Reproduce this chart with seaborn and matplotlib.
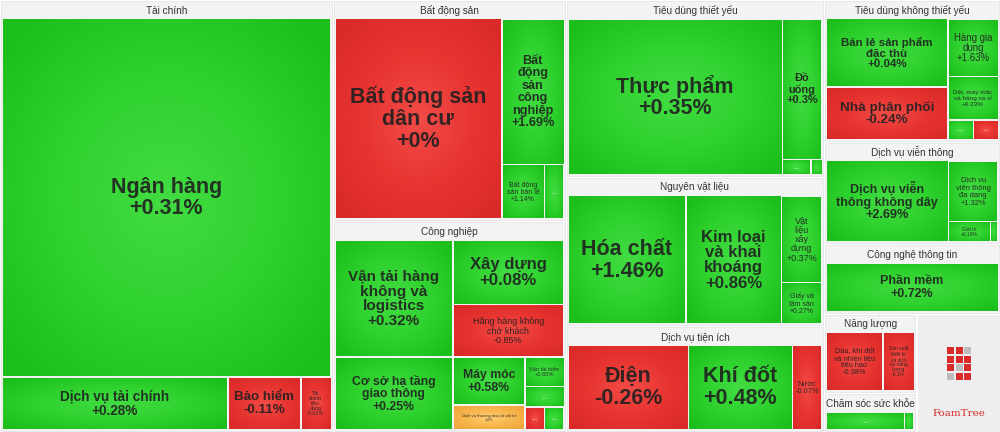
import numpy as np
import matplotlib
matplotlib.use("Agg")
import matplotlib.pyplot as plt
from matplotlib.patches import Rectangle
import seaborn as sns

# ---------------- data ----------------
SECTORS = ["Tài chính", "Bất động sản", "Công nghiệp", "Tiêu dùng thiết yếu",
           "Nguyên vật liệu", "Dịch vụ tiện ích", "Tiêu dùng không thiết yếu",
           "Dịch vụ viễn thông", "Công nghệ thông tin", "Năng lượng",
           "Chăm sóc sức khỏe"]

INDUSTRIES = [
    "Ngân hàng", "Dịch vụ tài chính", "Bảo hiểm", "Tài chính tiêu dùng",                 # 0-3
    "Bất động sản dân cư", "Bất động sản công nghiệp", "Bất động sản bán lẻ", "...",   # 4-7
    "Vận tải hàng không và logistics", "Cơ sở hạ tầng giao thông", "Xây dựng",         # 8-10
    "Hãng hàng không chở khách", "Máy móc", "Dịch vụ thương mại và vật tư",            # 11-13
    "Vận tải biển", "...", "...", "...",                                               # 14-17
    "Thực phẩm", "Đồ uống", "...", "...",                                              # 18-21
    "Hóa chất", "Kim loại và khai khoáng", "Vật liệu xây dựng", "Giấy và lâm sản",     # 22-25
    "Điện", "Khí đốt", "Nước",                                                         # 26-28
    "Bán lẻ sản phẩm đặc thù", "Nhà phân phối", "Hàng gia dụng",                       # 29-31
    "Dệt, may mặc và hàng xa xỉ", "...", "...",                                        # 32-34
    "Dịch vụ viễn thông không dây", "Dịch vụ viễn thông đa dạng", "Giải trí", "...",   # 35-38
    "Phần mềm",                                                                        # 39
    "Dầu, khí đốt và nhiên liệu tiêu hao", "Sản xuất thiết bị và dịch vụ năng lượng",  # 40-41
    "Dược phẩm", "...",                                                                # 42-43
]

CHANGE_PCT = [
    0.31, 0.28, -0.11, -0.02,
    -0.004, 1.69, 1.14, 0.5,
    0.32, 0.25, 0.08,
    -0.85, 0.58, 0.0,
    0.65, 0.4, -0.3, 0.2,
    0.35, 0.3, 0.5, 0.2,
    1.46, 0.86, 0.37, 0.27,
    -0.26, 0.48, -0.07,
    0.04, -0.24, 1.63,
    0.23, 0.3, -0.2,
    2.69, 1.32, 0.19, 0.1,
    0.72,
    -0.38, -0.1,
    0.32, 0.2,
]

MARKET_WEIGHT = [
    1254, 127, 41, 17,
    376, 102, 26, 12,
    156, 97, 81,
    66, 39, 20,
    13, 9, 5, 5,
    386, 64, 5, 2,
    179, 145, 42, 20,
    129, 112, 32,
    100, 77, 35,
    26, 6, 6,
    128, 39, 11, 2,
    123,
    47, 26,
    32, 4,
]

# ---------------- layout structure (nested slices) ----------------
LOGO_WEIGHT = 99
LAYOUT = ("h", [
    ("g", 0, ("v", [0, ("h", [1, 2, 3])])),
    ("v", [
        ("g", 1, ("h", [4, ("v", [5, ("h", [6, 7])])])),
        ("g", 2, ("h", [("v", [8, 9]),
                        ("v", [10, 11, ("h", [("v", [12, 13]),
                                              ("v", [14, 15, ("h", [16, 17])])])])])),
    ]),
    ("v", [
        ("g", 3, ("h", [18, ("v", [19, ("h", [20, 21])])])),
        ("g", 4, ("h", [22, 23, ("v", [24, 25])])),
        ("g", 5, ("h", [26, 27, 28])),
    ]),
    ("v", [
        ("g", 6, ("h", [("v", [29, 30]), ("v", [31, 32, ("h", [33, 34])])])),
        ("g", 7, ("h", [35, ("v", [36, ("h", [37, 38])])])),
        ("g", 8, 39),
        ("h", [("v", [("g", 9, ("h", [40, 41])), ("g", 10, ("h", [42, 43]))]), "LOGO"]),
    ]),
])

W, H = 1000, 432
HDR = 19
sns.set_theme(style="white")
FONT = ["Liberation Sans", "DejaVu Sans"]
plt.rcParams["font.family"] = FONT

fig = plt.figure(figsize=(W / 100, H / 100), dpi=100)
ax = fig.add_axes([0, 0, 1, 1])
ax.set_xlim(0, W)
ax.set_ylim(H, 0)
ax.axis("off")
renderer = fig.canvas.get_renderer()

green_cmap = sns.blend_palette(["#1BBE1B", "#2FD22F", "#42DC42"], as_cmap=True)
red_cmap = sns.blend_palette(["#DA2A28", "#E83532", "#F24C47"], as_cmap=True)
orange_cmap = sns.blend_palette(["#F0A53A", "#F8B850", "#FFCB72"], as_cmap=True)


def weight(node):
    if node == "LOGO":
        return LOGO_WEIGHT
    if isinstance(node, int):
        return MARKET_WEIGHT[node]
    if node[0] == "g":
        return weight(node[2])
    return sum(weight(k) for k in node[1])


cells, groups, logo = [], [], []


def layout(node, x, y, w, h):
    if node == "LOGO":
        logo.append((x, y, w, h))
        return
    if isinstance(node, int):
        cells.append((node, x, y, w, h))
        return
    if node[0] == "g":
        groups.append((node[1], x, y, w, h))
        layout(node[2], x + 2, y + HDR, w - 4, h - HDR - 2)
        return
    d, kids = node
    tot = sum(weight(k) for k in kids)
    pos = 0.0
    for k in kids:
        f = weight(k) / tot
        if d == "h":
            layout(k, x + pos * w, y, f * w, h)
        else:
            layout(k, x, y + pos * h, w, f * h)
        pos += f


layout(LAYOUT, 0, 0, W, H)

# group panels + headers
for s, x, y, w, h in groups:
    ax.add_patch(Rectangle((x + 1, y + 1), w - 2, h - 2, facecolor="#F3F3F3",
                           edgecolor="#E6E6E6", linewidth=0.6, zorder=1))
    ax.text(x + w / 2, y + HDR / 2 + 1, SECTORS[s], ha="center", va="center",
            fontsize=7.2, color="#333333", zorder=5)

# radial gradient texture
gy, gx = np.mgrid[-1:1:40j, -1:1:40j]
RAD = 1 - np.clip(np.sqrt(gx ** 2 + gy ** 2) / 1.35, 0, 1)

_cache = {}


def measure(s):
    if s not in _cache:
        t = ax.text(0, 0, s, fontsize=10, fontweight="bold", linespacing=1.05)
        bb = t.get_window_extent(renderer)
        t.remove()
        _cache[s] = (bb.width, bb.height)
    return _cache[s]


def wraps(name):
    words = name.split()
    out = []
    for maxc in range(1, len(name) + 1):
        lines, cur = [], ""
        for wd in words:
            if cur and len(cur) + 1 + len(wd) > maxc:
                lines.append(cur)
                cur = wd
            else:
                cur = (cur + " " + wd) if cur else wd
        lines.append(cur)
        s = "\n".join(lines)
        if s not in out:
            out.append(s)
    return out


def fmt(v):
    if round(v, 2) == 0:
        return "+0%"
    s = f"{v:+.2f}".rstrip("0").rstrip(".")
    return s + "%"


MAXFS, AW, AH = 15.5, 0.85, 0.55

for i, x, y, w, h in cells:
    v = CHANGE_PCT[i]
    cmap = green_cmap if v > 0 else (red_cmap if v < 0 else orange_cmap)
    x0, y0, ww, hh = x + 1, y + 1, w - 2, h - 2
    ax.imshow(RAD, cmap=cmap, vmin=0, vmax=1, extent=(x0, x0 + ww, y0 + hh, y0),
              interpolation="bilinear", aspect="auto", zorder=2)
    cx, cy = x0 + ww / 2, y0 + hh / 2
    name = INDUSTRIES[i]
    best = None
    if name != "...":
        for k, wr in enumerate(wraps(name)):
            lab = wr + "\n" + fmt(v)
            tw, th = measure(lab)
            fs = min(MAXFS, 10 * min(AW * ww / tw, AH * hh / th))
            key = (round(fs, 2), -lab.count("\n"), k)
            if best is None or key > best[0]:
                best = (key, lab, fs)
    if best is not None and best[2] >= 3.0:
        fs = best[2]
        ax.text(cx, cy, best[1], ha="center", va="center", fontsize=fs,
                fontweight="bold" if fs >= 7 else "normal", linespacing=1.05,
                color="#202020", alpha=0.9, zorder=4)
    elif ww >= 12 and hh >= 9:
        ax.text(cx, cy, "...", ha="center", va="center", fontsize=5.5,
                color="white", alpha=0.85, zorder=4)

# FoamTree logo panel
for x, y, w, h in logo:
    ax.add_patch(Rectangle((x + 2, y + 1), w - 2, h - 1, facecolor="#EEEEEE",
                           edgecolor="none", zorder=1))
    cx, cy = x + w / 2 + 1, y + h * 0.42
    s = 8.5
    pattern = [[1, 1, 0], [1, 1, 1], [1, 0, 1], [0, 1, 1]]
    for r, row in enumerate(pattern):
        for c, on in enumerate(row):
            ax.add_patch(Rectangle((cx - 1.5 * s + c * s + 0.8, cy - 2 * s + r * s + 0.8),
                                   s - 1.6, s - 1.6,
                                   facecolor="#D9292B" if on else "#BDBDBD",
                                   edgecolor="none", zorder=2))
    ax.text(cx, y + h * 0.84, "FoamTree", ha="center", va="center", fontsize=7.5,
            family=["DejaVu Serif"], color="#D9292B", zorder=3)

ax.set_xlim(0, W)
ax.set_ylim(H, 0)
fig.savefig("out.png", dpi=100, facecolor="white")
